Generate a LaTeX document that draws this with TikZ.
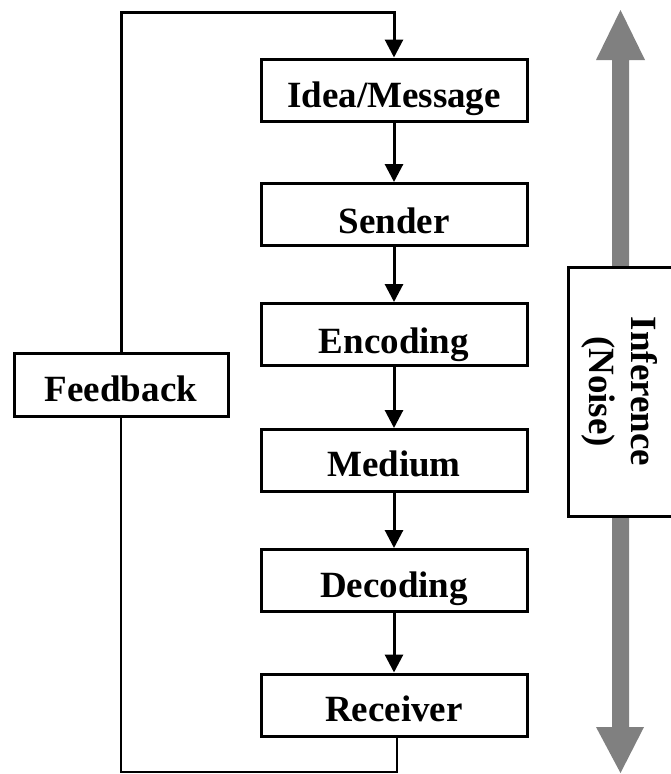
\documentclass[tikz,border=0pt]{standalone}
\usepackage{fontspec}
\setmainfont{Liberation Serif}
\usetikzlibrary{arrows.meta}
\begin{document}
\begin{tikzpicture}[x=1pt,y=-1pt,
  box/.style={draw, line width=3pt, fill=white, inner sep=0pt,
    minimum width=266pt, minimum height=62pt,
    font=\fontsize{37}{42}\selectfont\bfseries},
  flow/.style={line width=3pt, -{Triangle[width=18pt,length=18pt]}},
  loopline/.style={line width=2.8pt},
  noisearrow/.style={fill=black!50, draw=none},
]
\useasboundingbox (0,0) rectangle (670,774);

% Grey double arrow behind the noise box
\fill[noisearrow] (612,60) -- (596,60) -- (620.5,10) -- (645,60) -- (629,60)
  -- (629,727) -- (644,727) -- (620.5,773) -- (596,727) -- (612,727) -- cycle;

% Process chain
\node[box, text height=48pt, text depth=14pt]   (idea) at (394,90)    {Idea/Message};
\node[box, text height=49.5pt, text depth=12.5pt] (snd) at (394,214.5) {Sender};
\node[box, text height=49.5pt, text depth=12.5pt] (enc) at (394,334.5) {Encoding};
\node[box, text height=46.5pt, text depth=15.5pt] (med) at (394,460.5) {Medium};
\node[box, text height=47.5pt, text depth=14.5pt] (dec) at (394,580.5) {Decoding};
\node[box, text height=47pt, text depth=15pt]   (rcv) at (394,705)   {Receiver};

% Feedback box
\node[box, minimum width=214pt, minimum height=63pt,
  text height=48pt, text depth=15pt] (fb) at (121,384.5) {Feedback};

% Noise box (rotated text)
\node[box, rotate=-90, minimum width=249pt, minimum height=104pt,
  align=center] (noise) at (620,391.5) {Inference\\(Noise)};

% Arrows between stages
\draw[flow] (idea) -- (snd);
\draw[flow] (snd) -- (enc);
\draw[flow] (enc) -- (med);
\draw[flow] (med) -- (dec);
\draw[flow] (dec) -- (rcv);

% Feedback loop
\coordinate (botR) at (397,772);
\coordinate (botL) at (121,772);
\coordinate (topL) at (121,12);
\coordinate (topR) at (394,12);
\draw[loopline] ([xshift=3pt]rcv.south) -- (botR) -- (botL) -- (fb.south);
\draw[flow] (fb.north) -- (topL) -- (topR) -- (idea.north);
\end{tikzpicture}
\end{document}
